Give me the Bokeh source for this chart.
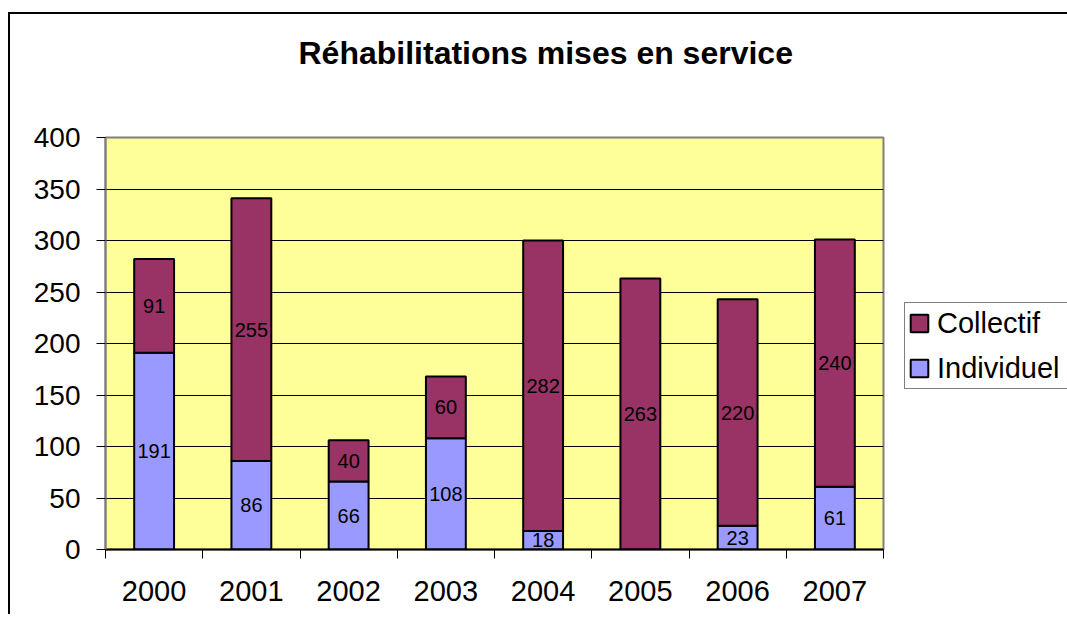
from bokeh.plotting import figure
from bokeh.models import (ColumnDataSource, Range1d, FixedTicker, Legend, LegendItem, Title)
from bokeh.core.properties import value
from bokeh.embed import file_html
from bokeh.resources import INLINE

years = ["2000", "2001", "2002", "2003", "2004", "2005", "2006", "2007"]
individuel = [191, 86, 66, 108, 18, 0, 23, 61]
collectif = [91, 255, 40, 60, 282, 263, 220, 240]
y_ticks = [0, 50, 100, 150, 200, 250, 300, 350, 400]

FONT = "Liberation Sans"
C_IND = "#9999FF"
C_COL = "#993366"

xs = list(range(len(years)))
src = ColumnDataSource(dict(x=xs, ind=individuel, col=collectif))

p = figure(frame_width=778, frame_height=412,
           min_border_left=95, min_border_top=123, min_border_right=176, min_border_bottom=65,
           x_range=Range1d(-0.5, len(years) - 0.5), y_range=Range1d(0, 400),
           output_backend="svg", toolbar_location=None,
           background_fill_color="#FFFF99", border_fill_color="white",
           styles={"border-left": "2px solid black", "border-top": "2px solid black",
                   "margin-top": "12px", "margin-left": "8px"})

p.outline_line_color = "#808080"
p.outline_line_width = 2

rs = p.vbar_stack(["ind", "col"], x="x", width=0.41, source=src,
                  color=[C_IND, C_COL], line_color="black", line_width=2)

# data labels
lx, ly, lt = [], [], []
for i, (a, b) in enumerate(zip(individuel, collectif)):
    if a > 0:
        lx.append(i); ly.append(a / 2); lt.append(str(a))
    if b > 0:
        lx.append(i); ly.append(a + b / 2); lt.append(str(b))
p.text(x=lx, y=ly, text=lt, text_font=value(FONT), text_font_size="20px",
       text_color="black", text_align="center", text_baseline="middle")

# grid
p.xgrid.visible = False
p.ygrid.ticker = FixedTicker(ticks=y_ticks)
p.ygrid.grid_line_color = "black"
p.ygrid.grid_line_width = 1

# y axis
ya = p.yaxis[0]
ya.ticker = FixedTicker(ticks=y_ticks)
ya.axis_line_color = "#808080"
ya.axis_line_width = 2
ya.major_tick_out = 9
ya.major_tick_in = 0
ya.major_tick_line_color = "black"
ya.minor_tick_line_color = None
ya.major_label_standoff = 16
ya.major_label_text_font = FONT
ya.major_label_text_font_size = "28px"
ya.major_label_text_color = "black"

# x axis
xa = p.xaxis[0]
xa.ticker = FixedTicker(ticks=xs, minor_ticks=[i - 0.5 for i in range(len(years) + 1)])
xa.major_label_overrides = {i: y for i, y in zip(xs, years)}
xa.axis_line_color = "black"
xa.axis_line_width = 2
xa.major_tick_out = 0
xa.major_tick_in = 0
xa.minor_tick_out = 9
xa.minor_tick_in = 0
xa.minor_tick_line_color = "black"
xa.major_label_standoff = 22
xa.major_label_text_font = FONT
xa.major_label_text_font_size = "29px"
xa.major_label_text_color = "black"

# title (second blank line keeps the title high above the frame)
t = Title(text="Réhabilitations mises en service\n ", text_font=FONT, text_font_size="32px",
          text_font_style="bold", text_color="black", align="left", offset=193,
          text_line_height=1.84, standoff=0)
p.add_layout(t, "above")

# legend
legend = Legend(items=[LegendItem(label="Collectif", renderers=[rs[1]]),
                       LegendItem(label="Individuel", renderers=[rs[0]])],
                location=(21, 160), label_text_font=FONT, label_text_font_size="29px",
                label_text_color="black", glyph_width=22, glyph_height=22,
                label_height=34, label_width=130, label_standoff=7, spacing=11, padding=3,
                border_line_color="black", border_line_width=1, background_fill_color="white",
                margin=0)
p.add_layout(legend, "right")

open("out.html", "w").write(file_html(p, INLINE))
